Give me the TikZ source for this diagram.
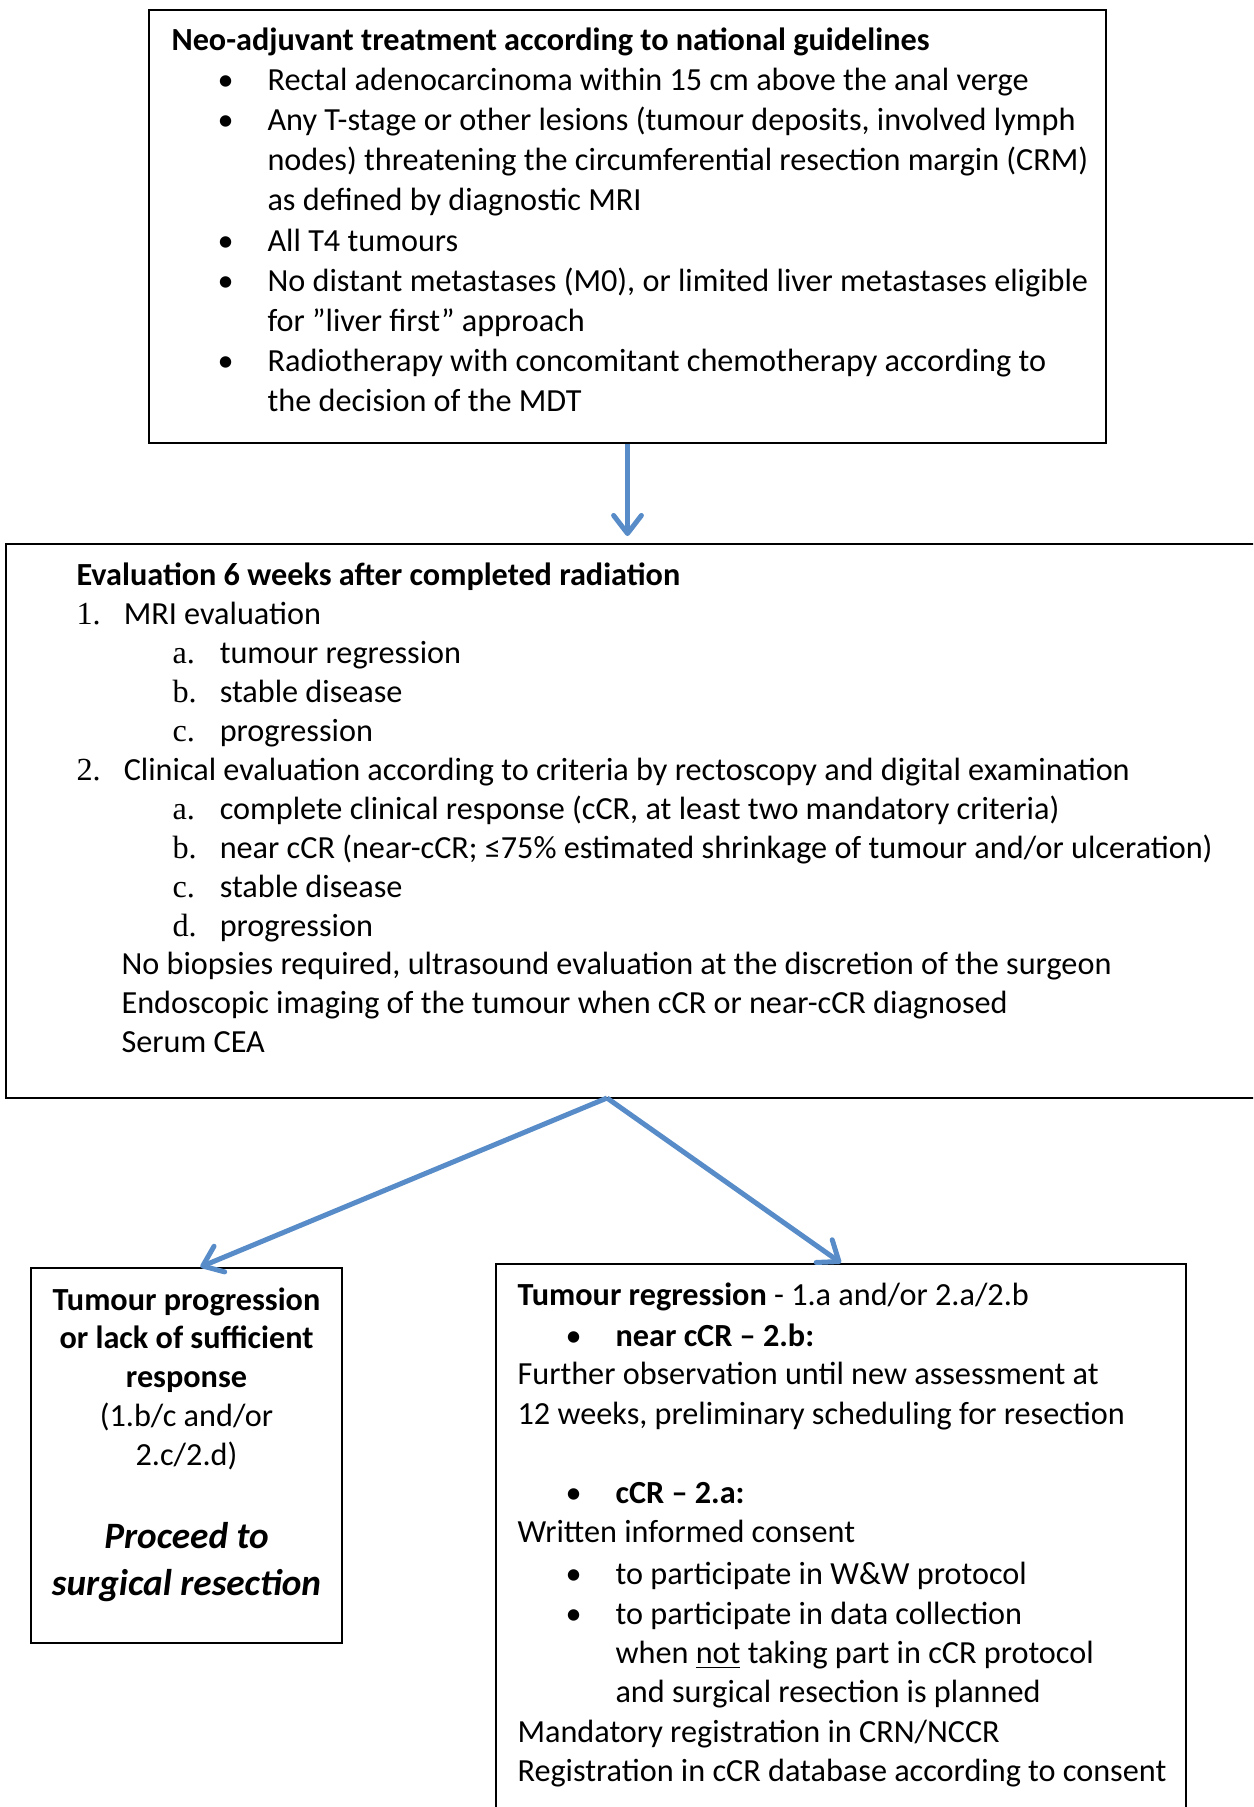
\documentclass[tikz,border=0pt]{standalone}
\usepackage{fontspec}
\setmainfont{Carlito}
\newfontfamily\numfont{Liberation Serif}
\usetikzlibrary{arrows.meta,calc,fit}
\definecolor{FlowBlue}{RGB}{88,140,200}
\newcommand{\bul}{\makebox[15.5pt][l]{\hspace{-2.5pt}\textbullet}}
\newcommand{\enumlbl}[1]{\makebox[17pt][l]{\numfont #1}}

\begin{document}
\begin{tikzpicture}[x=0.36pt,y=-0.36pt,
  box/.style={draw,line width=0.75pt,inner sep=0pt},
  flow/.style={FlowBlue,line width=1.8pt,-{Straight Barb[round,length=6.5pt,width=10pt]}},
  txt/.style={anchor=base west,inner sep=0pt,font=\fontsize{11.6}{14}\selectfont},
  ctr/.style={txt,anchor=base}]
\path[use as bounding box] (0,0) rectangle (1253,1807);\clip (0,0) rectangle (1253,1807);
% boxes
\node[box,fit={(149,10) (1106,443)}] (neo) {};
\node[box,fit={(6,544) (1290,1098)}] (evalbox) {};
\node[box,fit={(31,1268) (342,1643)}] (progbox) {};
\node[box,fit={(496,1264) (1186,1850)}] (regbox) {};
% neo-adjuvant criteria
\foreach \xx/\yy/\lt [count=\i] in {171/51/{\bfseries Neo-adjuvant treatment according to national guidelines},
  224/91/{\bul Rectal adenocarcinoma within 15 cm above the anal verge},
  224/131/{\bul Any T-stage or other lesions (tumour deposits, involved lymph},
  267/171/{nodes) threatening the circumferential resection margin (CRM)},
  267/211/{as defined by diagnostic MRI},
  224/251/{\bul All T4 tumours},
  224/291/{\bul No distant metastases (M0), or limited liver metastases eligible},
  267/331/{for ”liver first” approach},
  224/371/{\bul Radiotherapy with concomitant chemotherapy according to},
  267/411/{the decision of the MDT}}
  \node[txt] (neo\i) at (\xx,\yy) {\lt};
% evaluation at 6 weeks
\foreach \xx/\yy/\lt [count=\i] in {76/585/{\bfseries Evaluation 6 weeks after completed radiation},
  76/624.5/{\enumlbl{1.}MRI evaluation},
  172/663.5/{\enumlbl{a.}tumour regression},
  172/702/{\enumlbl{b.}stable disease},
  172/741.5/{\enumlbl{c.}progression},
  76/780/{\enumlbl{2.}Clinical evaluation according to criteria by rectoscopy and digital examination},
  172/819/{\enumlbl{a.}complete clinical response (cCR, at least two mandatory criteria)},
  172/858/{\enumlbl{b.}near cCR (near-cCR; ≤75\% estimated shrinkage of tumour and/or ulceration)},
  172/897/{\enumlbl{c.}stable disease},
  172/936/{\enumlbl{d.}progression},
  121/974/{No biopsies required, ultrasound evaluation at the discretion of the surgeon},
  121/1013.5/{Endoscopic imaging of the tumour when cCR or near-cCR diagnosed},
  121/1052.5/{Serum CEA}}
  \node[txt] (eval\i) at (\xx,\yy) {\lt};
% progression -> surgery
\foreach \yy/\lt [count=\i] in {1310/{\bfseries Tumour progression},1348/{\bfseries or lack of sufficient},
  1387/{\bfseries response},1426/{(1.b/c and/or},1465/{2.c/2.d)},
  1548/{\fontsize{13.4}{16}\selectfont\bfseries\itshape Proceed to},1595/{\fontsize{13.4}{16}\selectfont\bfseries\itshape surgical resection}}
  \node[ctr] (prog\i) at (186.5,\yy) {\lt};
% regression -> cCR / near cCR
\foreach \xx/\yy/\lt [count=\i] in {517/1305/{\textbf{Tumour regression} - 1.a and/or 2.a/2.b},
  572/1346/{\bul\textbf{near cCR – 2.b:}},
  517/1384.5/{Further observation until new assessment at},
  517/1424/{12 weeks, preliminary scheduling for resection},
  572/1503/{\bul\textbf{cCR – 2.a:}},
  517/1542/{Written informed consent},
  572/1584/{\bul to participate in W\&W protocol},
  572/1624/{\bul to participate in data collection},
  615/1663/{when \underline{not} taking part in cCR protocol},
  615/1702/{and surgical resection is planned},
  517/1742/{Mandatory registration in CRN/NCCR},
  517/1781/{Registration in cCR database according to consent}}
  \node[txt] (reg\i) at (\xx,\yy) {\lt};
% arrows
\coordinate (split) at (607,1098);
\draw[flow,shorten >=2.5pt] (neo.south) -- (neo.south |- evalbox.north);
\draw[flow] (split) -- ([xshift=5pt]progbox.north);
\draw[flow] (split) -- (regbox.north);
\end{tikzpicture}
\end{document}
